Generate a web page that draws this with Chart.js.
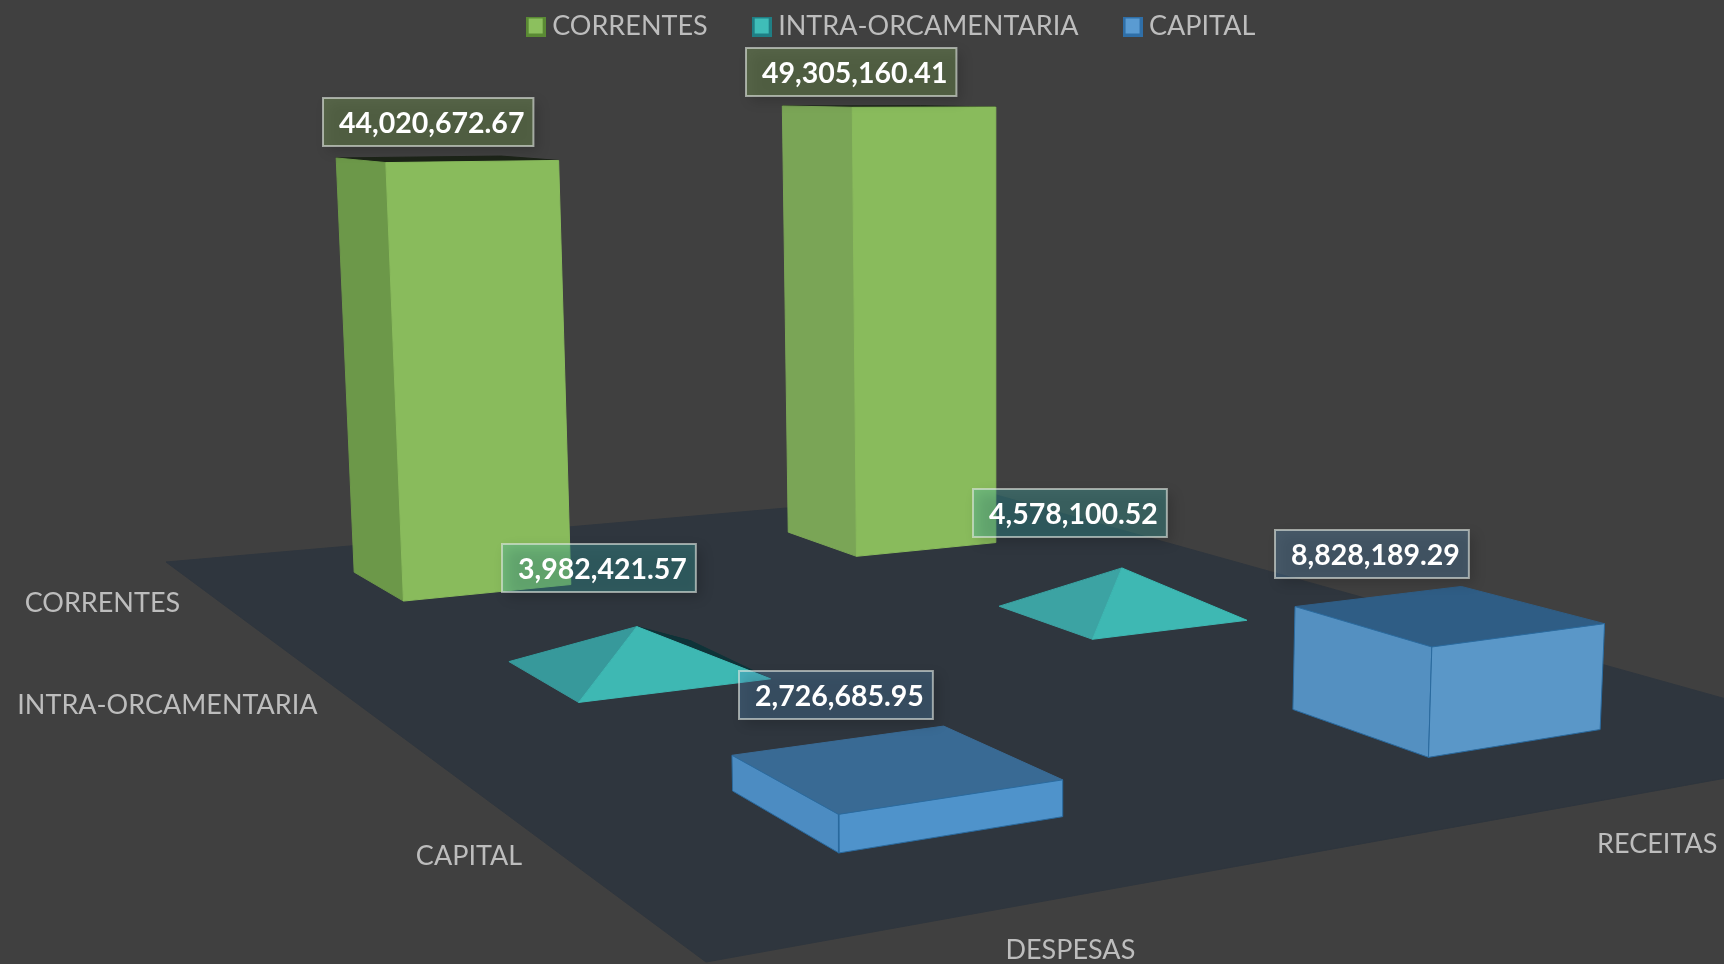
<!DOCTYPE html>
<html>
<head>
<meta charset="utf-8">
<style>
html,body{margin:0;padding:0;background:#404040;overflow:hidden}
canvas{display:block}
</style>
<script src="https://cdn.jsdelivr.net/npm/chart.js@4/dist/chart.umd.js"></script>
</head>
<body>
<canvas id="c" width="1724" height="964"></canvas>
<script>
// ---- data ----
const categories = ['DESPESAS', 'RECEITAS'];
const seriesNames = ['CORRENTES', 'INTRA-ORCAMENTARIA', 'CAPITAL'];
const correntes = [44020672.67, 49305160.41];
const intraOrcamentaria = [3982421.57, 4578100.52];
const capital = [2726685.95, 8828189.29];
const seriesValues = [correntes, intraOrcamentaria, capital];

// ---- 3D camera (floor homography + vertical axis) ----
const cam = {a:993.6,b:219.2,c:166,d:17.8,e:-37.1,f:562,g:0.1809,h:-0.4544,
             zx:-0.606,zy:-9.32,zw:-0.00061};
function project(u,v,val){
  const z = (val||0)/1e6;
  const w = 1+cam.g*u+cam.h*v+cam.zw*z;
  return {x:(cam.a*u+cam.b*v+cam.c+cam.zx*z)/w, y:(cam.d*u+cam.e*v+cam.f+cam.zy*z)/w};
}
const du = 0.087, dv = 0.06;
const cellU = i => (i+0.5)/categories.length;
const cellV = s => (s+0.5)/seriesNames.length;

// ---- styling ----
const FLOOR = '#2f363e';
const faceColors = {
  0:{left:['#6c9849','#7aa556'],right:['#89bb5c','#89bb5c'],top:['#1c2418','#1c2418'],edge:null},
  1:{left:['#37999b','#3ca3a3'],right:['#3eb8b3','#3eb8b3'],back:['#0f3338','#0f3338'],edge:null},
  2:{left:['#4c8cc2','#5490c1'],right:['#4f93cb','#5a97c8'],top:['#396a94','#2f5d85'],edge:'#2a6a9e'}
};
const labelFill = ['rgba(138,187,92,0.3)','rgba(61,181,177,0.32)','rgba(90,150,200,0.3)'];
// label centre offsets from each mark's top centre
const labelOffset = [[[-22,-37],[-40,-34]],[[-41,-58],[-54,-55]],[[-60,-72],[-76,-61]]];

function poly(pts,color,edge){
  return {type:'scatter',showLine:true,data:[...pts,pts[0]],fill:'shape',backgroundColor:color,
    borderColor:edge||color,borderWidth:1,pointRadius:0,tension:0,label:'face'};
}
const datasets = [poly([project(0,0),project(1,0),project(1,1),project(0,1)],FLOOR)];
seriesNames.forEach((name,s)=>{
  categories.forEach((cat,i)=>{
    const val = seriesValues[s][i], v = cellV(s), u = cellU(i)-0.005*(1-v), c = faceColors[s];
    const b = {L:project(u-du,v-dv),F:project(u-du,v+dv),R:project(u+du,v+dv),B:project(u+du,v-dv)};
    if(s===1){
      const apex = project(u,v,val);
      datasets.push(poly([b.B,b.R,apex],c.back[i]));
      datasets.push(poly([b.L,b.B,apex],c.back[i]));
      datasets.push(poly([b.L,b.F,apex],c.left[i]));
      datasets.push(poly([b.F,b.R,apex],c.right[i]));
    }else{
      const t = {L:project(u-du,v-dv,val),F:project(u-du,v+dv,val),R:project(u+du,v+dv,val),B:project(u+du,v-dv,val)};
      datasets.push(poly([t.L,t.F,t.R,t.B],c.top[i],c.edge&&c.top[i]));
      datasets.push(poly([b.L,b.F,t.F,t.L],c.left[i],c.edge));
      datasets.push(poly([b.F,b.R,t.R,t.F],c.right[i],c.edge));
    }
  });
});
datasets.forEach((d,i)=>{d.order = datasets.length-i;});

// legend swatches
function swatch(fill,border){
  const k=document.createElement('canvas');k.width=20;k.height=20;
  const x=k.getContext('2d');x.fillStyle=border;x.fillRect(0,0,20,20);
  x.fillStyle=fill;x.fillRect(3,2,14,15);return k;
}
const swatches=[swatch('#8cc05e','#5a8a34'),swatch('#3fbdb8','#1f7f85'),swatch('#5a9bd2','#2f6fa8')];

const FONT='Lato';
const AXIS_COLOR='#bdbdbd';
const AXIS_SIZE=27, LABEL_SIZE=28.5, LEGEND_SIZE=27;
const chart3d={
  id:'chart3d',
  afterLayout(chart){
    const y=chart.scales.y, area=chart.chartArea;
    area.top=0; area.height=area.bottom;
    y.top=0; y.height=y.bottom; y.min=0; y.configure();
    const l=chart.legend; l.left+=32; l.right+=32; l.top-=38; l.bottom-=38;
  },
  afterDatasetsDraw(chart){
    const {ctx,scales:{x,y}}=chart;
    const px=p=>({x:x.getPixelForValue(p.x),y:y.getPixelForValue(p.y)});
    ctx.save();
    // axis labels
    ctx.fillStyle=AXIS_COLOR;ctx.font='400 '+AXIS_SIZE+'px '+FONT;ctx.textBaseline='middle';
    ctx.textAlign='right';
    seriesNames.forEach((n,s)=>{const p=px(project(0,cellV(s)));ctx.fillText(n,p.x-39,p.y+2);});
    ctx.textAlign='center';
    categories.forEach((n,i)=>{const p=px(project(cellU(i),1));ctx.fillText(n,p.x-2,p.y+54);});
    // value labels
    ctx.font='700 '+LABEL_SIZE+'px '+FONT;
    seriesNames.forEach((n,s)=>{
      categories.forEach((cat,i)=>{
        const val=seriesValues[s][i];
        const p=px(project(cellU(i),cellV(s),val));
        const text=val.toLocaleString('en-US',{minimumFractionDigits:2,maximumFractionDigits:2});
        const cx=p.x+labelOffset[s][i][0], cy=p.y+labelOffset[s][i][1];
        const tw=ctx.measureText(text).width;
        const w=tw+25,h=48,l=Math.round(cx-w/2),t=Math.round(cy-h/2);
        ctx.save();
        ctx.shadowColor='rgba(0,0,0,0.55)';ctx.shadowBlur=12;ctx.shadowOffsetX=5;ctx.shadowOffsetY=5;
        ctx.fillStyle=labelFill[s];ctx.fillRect(l,t,w,h);
        ctx.restore();
        ctx.strokeStyle='rgba(225,230,225,0.62)';ctx.lineWidth=2;ctx.strokeRect(l,t,w,h);
        ctx.fillStyle='#ffffff';ctx.textAlign='left';ctx.textBaseline='middle';
        ctx.fillText(text,l+w-tw-9,t+h/2+2);
      });
    });
    ctx.restore();
  }
};

new Chart(document.getElementById('c'),{
  type:'scatter',
  data:{datasets},
  plugins:[chart3d],
  options:{
    responsive:false,animation:false,
    layout:{padding:0},
    events:[],
    scales:{
      x:{type:'linear',min:0,max:1724,display:false},
      y:{type:'linear',min:0,max:964,reverse:true,display:false}
    },
    plugins:{
      tooltip:{enabled:false},
      title:{display:false},
      legend:{
        display:true,position:'top',align:'center',
        labels:{
          usePointStyle:true,pointStyleWidth:6,padding:51,color:AXIS_COLOR,
          font:{family:FONT,size:LEGEND_SIZE,weight:'400'},
          generateLabels:()=>seriesNames.map((n,i)=>({text:n,pointStyle:swatches[i],fontColor:AXIS_COLOR,lineWidth:0,hidden:false,datasetIndex:0}))
        }
      }
    }
  }
});
</script>
</body>
</html>
